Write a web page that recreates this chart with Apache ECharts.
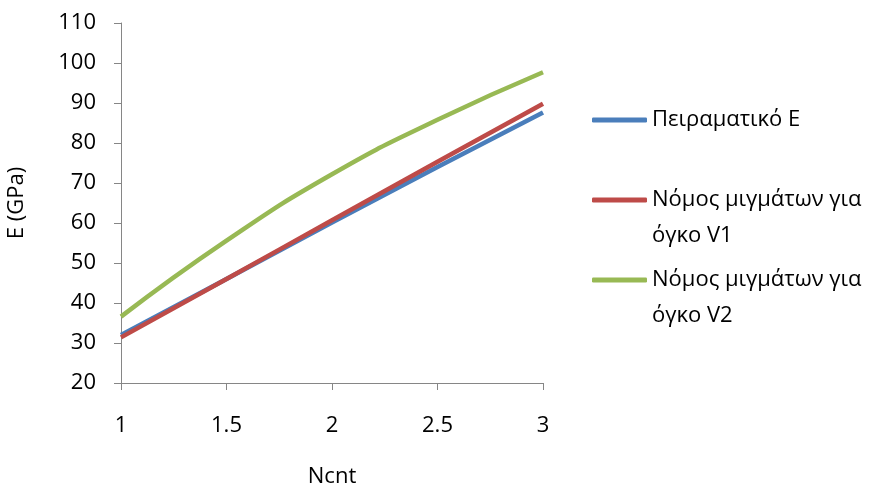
<!DOCTYPE html>
<html>
<head>
<meta charset="utf-8">
<script src="https://cdn.jsdelivr.net/npm/echarts@6/dist/echarts.min.js"></script>
<style>
  html, body { margin: 0; padding: 0; background: #fff; }
  #chart { width: 877px; height: 493px; }
</style>
</head>
<body>
<div id="chart"></div>
<script>
// Young's modulus versus CNT count: measured values and two rule-of-mixtures estimates
const ncnt = [1, 1.5, 2, 2.5, 3];
const measuredE = [32.0, 46.0, 60.1, 74.0, 87.6];
const mixtureV1 = [31.4, 46.0, 60.7, 75.3, 89.8];
const mixtureV2 = [36.6, 55.6, 72.2, 85.8, 97.7];

const seriesNames = ['Πειραματικό Ε', 'Νόμος μιγμάτων για όγκο V1', 'Νόμος μιγμάτων για όγκο V2'];
const legendLabels = ['Πειραματικό Ε', 'Νόμος μιγμάτων για\nόγκο V1', 'Νόμος μιγμάτων για\nόγκο V2'];
const colors = ['#4a7ebb', '#be4b48', '#98b954'];

const FONT = '"Open Sans", "Noto Sans", sans-serif';
const FS = 22;
const LINE_H = 36;

function pairs(ys) { return ncnt.map((x, i) => [x, ys[i]]); }

const chart = echarts.init(document.getElementById('chart'), null, { renderer: 'canvas' });

// vertical centre of each legend key line
const legendCentres = [120, 200, 280];
const legends = seriesNames.map((name, i) => {
  const twoLines = legendLabels[i].indexOf('\n') >= 0;
  // a blank leading line keeps the first text line level with the key
  const label = twoLines ? ' \n' + legendLabels[i] : legendLabels[i];
  const boxH = twoLines ? 3 * LINE_H : LINE_H;
  return {
    left: 592,
    top: legendCentres[i] - boxH / 2,
    padding: 0,
    icon: 'roundRect',
    itemWidth: 55,
    itemHeight: 5,
    selectedMode: false,
    data: [name],
    formatter: () => label,
    textStyle: { fontFamily: FONT, fontSize: FS, color: '#000', lineHeight: LINE_H }
  };
});

chart.setOption({
  animation: false,
  color: colors,
  grid: { left: 121, width: 422, top: 23, height: 364, containLabel: false },
  legend: legends,
  xAxis: {
    type: 'value',
    min: 1, max: 3, interval: 0.5,
    name: 'Ncnt',
    nameLocation: 'middle',
    nameGap: 83,
    nameTextStyle: { fontFamily: FONT, fontSize: FS, color: '#000' },
    axisLine: { show: true, lineStyle: { color: '#868686', width: 1 } },
    axisTick: { show: true, length: 7, lineStyle: { color: '#868686' } },
    axisLabel: { fontFamily: FONT, fontSize: FS, color: '#000', margin: 32 },
    splitLine: { show: false }
  },
  yAxis: {
    type: 'value',
    min: 20, max: 110, interval: 10,
    name: 'E (GPa)',
    nameLocation: 'middle',
    nameGap: 93,
    nameRotate: 90,
    nameTextStyle: { fontFamily: FONT, fontSize: FS, color: '#000' },
    axisLine: { show: true, lineStyle: { color: '#868686', width: 1 } },
    axisTick: { show: true, length: 7, lineStyle: { color: '#868686' } },
    axisLabel: { fontFamily: FONT, fontSize: FS, color: '#000', margin: 25 },
    splitLine: { show: false }
  },
  series: [
    { name: seriesNames[0], type: 'line', data: pairs(measuredE), smooth: true, symbol: 'none', lineStyle: { width: 4.5 } },
    { name: seriesNames[1], type: 'line', data: pairs(mixtureV1), smooth: true, symbol: 'none', lineStyle: { width: 4.5 } },
    { name: seriesNames[2], type: 'line', data: pairs(mixtureV2), smooth: true, symbol: 'none', lineStyle: { width: 4.5 } }
  ]
});
</script>
</body>
</html>
